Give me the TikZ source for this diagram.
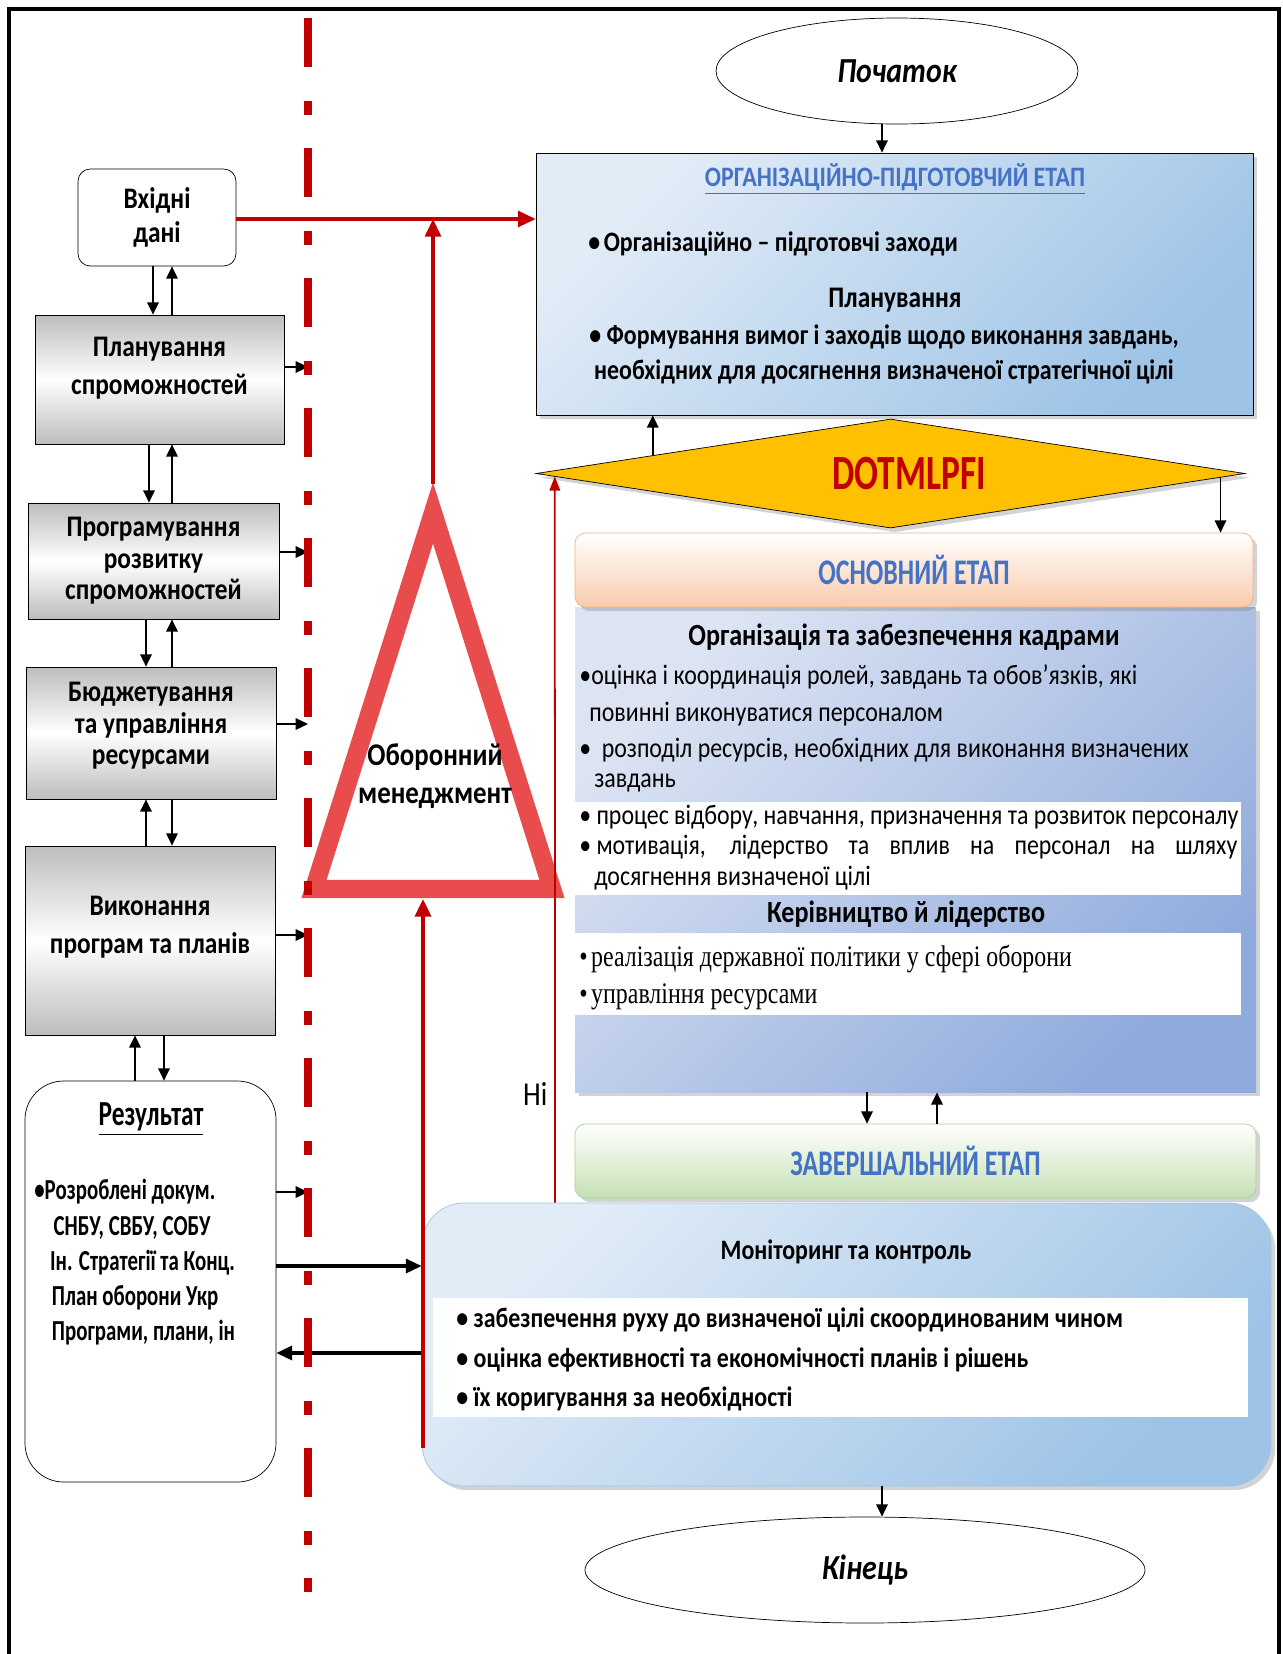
\documentclass[tikz,border=0pt]{standalone}
\usepackage{fontspec}
\setmainfont{Carlito}[FakeStretch=0.85]
\newfontfamily\narrowfont{Carlito}[FakeStretch=0.72]
\newfontfamily\serfont{Liberation Serif}[FakeStretch=0.8]
\usetikzlibrary{shapes.geometric, arrows.meta, shadows, calc}

\definecolor{darkred}{HTML}{C00000}
\definecolor{trired}{HTML}{E84C4C}
\definecolor{etapblue}{HTML}{4472C4}
\definecolor{gold}{HTML}{FFC000}
\definecolor{boxgrey}{HTML}{BDBDBD}
\definecolor{skyA}{HTML}{E2ECF7}
\definecolor{skyB}{HTML}{9DC3E6}
\definecolor{lavA}{HTML}{DCE4F3}
\definecolor{lavB}{HTML}{8FAADC}
\definecolor{peach}{HTML}{F8CBAD}
\definecolor{peachline}{HTML}{F4B183}
\definecolor{mint}{HTML}{C5E0B4}
\definecolor{mintline}{HTML}{A9D18E}

\newdimen\pxu
\pxu=0.02cm

\tikzstyle{inbox} = [rectangle, rounded corners=7pt, draw, thin, fill=white, align=center, font=\fontsize{17}{19}\selectfont\bfseries]
\tikzstyle{greybox} = [rectangle, draw, thin, top color=boxgrey, bottom color=boxgrey, middle color=white, align=center, font=\fontsize{17}{18}\selectfont\bfseries]
\tikzstyle{greytext} = [align=center, font=\fontsize{17}{18}\selectfont\bfseries]
\tikzstyle{resbox} = [rectangle, rounded corners=22pt, draw, thin, fill=white]
\tikzstyle{terminal} = [ellipse, draw, thin, fill=white, font=\fontsize{20}{24}\selectfont\bfseries\itshape]
\tikzstyle{stagebox} = [rectangle, draw, thin, left color=skyA, right color=skyB, shading angle=45, drop shadow={opacity=0.35}]
\tikzstyle{stagehead} = [rectangle, rounded corners=6pt, thin, top color=white, text=etapblue, font=\narrowfont\fontsize{20.5}{22}\selectfont\bfseries, drop shadow={opacity=0.35}]
\tikzstyle{band} = [fill=white]
\tikzstyle{bodybold} = [font=\fontsize{16}{20}\selectfont\bfseries]
\tikzstyle{bodytext} = [anchor=west, inner sep=0pt, font=\fontsize{16}{19}\selectfont]
\tikzstyle{arrow} = [line width=1.1pt,-{Triangle[length=7pt,width=6.5pt]}]
\tikzstyle{bigarrow} = [line width=1.8pt,-{Triangle[length=9pt,width=8pt]}]
\tikzstyle{redarrow} = [darkred, line width=1.8pt,-{Triangle[length=10pt,width=9pt]}]
\tikzstyle{thinred} = [darkred, line width=1pt,-{Triangle[length=8pt,width=6pt]}]

\begin{document}
\begin{tikzpicture}[x=0.02cm, y=-0.02cm]
\useasboundingbox (0,0) rectangle (1282,1654);

% frame
\draw [line width=2.8pt] (9,1654) -- (9,9) -- (1279,9) -- (1279,1654);

% left column
\node [inbox, minimum width=158*\pxu, minimum height=97*\pxu] at (157,217.5) (in) {Вхідні\\дані};
\node [greybox, minimum width=249*\pxu, minimum height=129*\pxu] at (159.5,379.5) (plan) {};
\node [greytext] at (159.5,368) (plantext) {Планування\\[4pt]спроможностей};
\node [greybox, minimum width=251*\pxu, minimum height=116*\pxu] at (153.5,561) (prog) {Програмування\\розвитку\\спроможностей};
\node [greybox, minimum width=250*\pxu, minimum height=132*\pxu] at (151,733) (budg) {};
\node [greytext] at (151,726) (budgtext) {Бюджетування\\та управління\\ресурсами};
\node [greybox, minimum width=250*\pxu, minimum height=189*\pxu] at (150,940.5) (exec) {};
\node [greytext] at (150,927) (exectext) {Виконання\\[4pt]програм та планів};
\node [resbox, minimum width=251*\pxu, minimum height=401*\pxu] at (150.5,1281.5) (res) {};
\node [font=\narrowfont\fontsize{20}{22}\selectfont\bfseries] at (151,1119) (restitle) {\underline{Результат}};
\node [anchor=north west, align=left, inner sep=0pt, font=\narrowfont\fontsize{16.5}{20.1}\selectfont\bfseries] at (34,1179) (reslist)
  {•Розроблені докум.\\\hspace*{11pt}СНБУ, СВБУ, СОБУ\\\hspace*{9pt}Ін. Стратегії та Конц.\\\hspace*{10pt}План оборони Укр\\\hspace*{10pt}Програми, плани, ін};

% right column
\node [terminal, minimum width=362*\pxu, minimum height=106*\pxu] at (897,71) (start) {Початок};
\node [stagebox, minimum width=717*\pxu, minimum height=262*\pxu] at (894.5,284) (org) {};
\node [diamond, draw, thin, fill=gold, inner sep=0pt, minimum width=709*\pxu, minimum height=109*\pxu, drop shadow={opacity=0.35}] at (890.5,473.5) (dotm) {};
\node [stagebox, draw=none, left color=lavA, right color=lavB, shading angle=45, minimum width=681*\pxu, minimum height=485*\pxu] at (915.5,849.5) (main) {};
\node [stagehead, bottom color=peach, draw=peachline, minimum width=678*\pxu, minimum height=74*\pxu] at (914,570) (mainhead) {ОСНОВНИЙ ЕТАП};
\node [stagehead, bottom color=mint, draw=mintline, minimum width=681*\pxu, minimum height=74*\pxu] at (915.5,1161) (fin) {ЗАВЕРШАЛЬНИЙ ЕТАП};
\node [stagebox, rounded corners=24pt, draw=skyB, minimum width=849*\pxu, minimum height=283*\pxu] at (846.5,1344.5) (mon) {};
\node [terminal, minimum width=560*\pxu, minimum height=106*\pxu] at (865,1570) (end) {Кінець};

% white bands
\fill [band] (575,802) rectangle (1241,895);
\fill [band] (575,933) rectangle (1241,1015);
\fill [band] (433,1298) rectangle (1248,1417);

% stage texts
\node [bodybold, text=etapblue, font=\fontsize{16}{18}\selectfont\bfseries] at (895,179) (orgtitle) {\underline{ОРГАНІЗАЦІЙНО-ПІДГОТОВЧИЙ ЕТАП}};
\node [bodybold, anchor=west, inner sep=0pt] at (588,244) (orgitem) {•\kern2pt Організаційно – підготовчі заходи};
\node [bodybold, font=\fontsize{17}{20}\selectfont\bfseries] at (895,300) (orgplan) {Планування};
\node [bodybold, align=center] at (884,354) (orgtext) {• Формування вимог і заходів щодо виконання завдань,\\необхідних для досягнення визначеної стратегічної цілі};
\node [font=\narrowfont\fontsize{28}{30}\selectfont\bfseries, text=darkred] at (909,474) (dotmtext) {DOTMLPFI};

\node [bodybold, font=\fontsize{17.5}{20}\selectfont\bfseries] at (904,637) (staffhead) {Організація та забезпечення кадрами};
\node [bodytext] at (579,677) (staff1) {•оцінка і координація ролей, завдань та обов’язків, які};
\node [bodytext] at (589,714) (staff2) {повинні виконуватися персоналом};
\node [bodytext] at (579,750) (staff3) {•\kern6pt розподіл ресурсів, необхідних для виконання визначених};
\node [bodytext] at (594,783) (staff4) {завдань};
\node [bodytext] at (579,817) (staff5) {•\kern3pt процес відбору, навчання, призначення та розвиток персоналу};
\node [bodytext] at (579,847) (staff6) {\makebox[658\pxu][s]{•\kern3pt мотивація, лідерство та вплив на персонал на шляху}};
\node [bodytext] at (594,878) (staff7) {досягнення визначеної цілі};
\node [bodybold, font=\fontsize{17.5}{20}\selectfont\bfseries] at (906,914) (leadhead) {Керівництво й лідерство};
\node [bodytext, font=\serfont\fontsize{17}{20}\selectfont] at (579,959) (lead1) {•\kern2pt реалізація державної політики у сфері оборони};
\node [bodytext, font=\serfont\fontsize{17}{20}\selectfont] at (579,997) (lead2) {•\kern2pt управління ресурсами};

\node [bodybold, font=\fontsize{16}{18}\selectfont\bfseries] at (846,1252) (montitle) {Моніторинг та контроль};
\node [bodybold, anchor=west, inner sep=0pt] at (456,1320) (mon1) {• забезпечення руху до визначеної цілі скоординованим чином};
\node [bodybold, anchor=west, inner sep=0pt] at (456,1360) (mon2) {• оцінка ефективності та економічності планів і рішень};
\node [bodybold, anchor=west, inner sep=0pt] at (456,1399) (mon3) {• їх коригування за необхідності};

% triangle
\draw [trired, line width=10.5pt, line join=miter, fill=white] (433,513) -- (314,889) -- (552,889) -- cycle;
\node [font=\fontsize{18}{22}\selectfont\bfseries, align=center] at (435,776) (defmgmt) {Оборонний\\менеджмент};
\coordinate (apex) at (433,484);
\coordinate (tribase) at (423,899);
\coordinate (monfoot) at (423,1448);

% left column arrows
\draw [arrow] (153,0 |- in.south) -- (153,0 |- plan.north);
\draw [arrow] (172,0 |- plan.north) -- (172,0 |- in.south);
\draw [arrow] (149,0 |- plan.south) -- (149,0 |- prog.north);
\draw [arrow] (172,0 |- prog.north) -- (172,0 |- plan.south);
\draw [arrow] (146,0 |- prog.south) -- (146,0 |- budg.north);
\draw [arrow] (172,0 |- budg.north) -- (172,0 |- prog.south);
\draw [arrow] (146,0 |- exec.north) -- (146,0 |- budg.south);
\draw [arrow] (172,0 |- budg.south) -- (172,0 |- exec.north);
\draw [arrow] (135,0 |- res.north) -- (135,0 |- exec.south);
\draw [arrow] (164,0 |- exec.south) -- (164,0 |- res.north);

\coordinate (divtop) at (308,18);
\coordinate (divbot) at (308,1592);
\draw [arrow] (plan.east |- 0,367) -- (divtop |- 0,367);
\draw [arrow] (prog.east |- 0,552) -- (divtop |- 0,552);
\draw [arrow] (budg.east |- 0,724) -- (divtop |- 0,724);
\draw [arrow] (exec.east |- 0,935) -- (divtop |- 0,935);
\draw [arrow] (res.east |- 0,1192) -- (divtop |- 0,1192);

\draw [bigarrow] (res.east |- 0,1266) -- (mon.west |- 0,1266);
\draw [bigarrow] (mon.west |- 0,1353) -- (res.east |- 0,1353);

% right column arrows
\draw [arrow] (882,0 |- start.south) -- (882,0 |- org.north);
\coordinate (dotmup) at ($(dotm.west)!0.33!(dotm.north)$);
\draw [arrow] (dotmup) -- (dotmup |- org.south);
\coordinate (dotmdn) at ($(dotm.east)!0.07!(dotm.south)$);
\draw [arrow] (dotmdn) -- (dotmdn |- mainhead.north);
\draw [arrow] (867,0 |- main.south) -- (867,0 |- fin.north);
\draw [arrow] (937,0 |- fin.north) -- (937,0 |- main.south);
\draw [arrow] (882,0 |- mon.south) -- (882,0 |- end.north);

% red connectors
\draw [redarrow] (in.east |- 0,219) -- (org.west |- 0,219);
\draw [redarrow] (apex) -- (apex |- 0,219);
\draw [redarrow, line width=2.2pt] (monfoot) -- (tribase);
\draw [thinred] (555,0 |- mon.north) -- ($(dotm.west)!0.054!(dotm.south)$) node [pos=0.15, left=0.5pt, text=black, font=\fontsize{19}{21}\selectfont] {Ні};

% divider
\draw [darkred, line width=4pt, dash pattern=on 28pt off 19pt on 8pt off 19pt] (divtop) -- (divbot);
\end{tikzpicture}
\end{document}
